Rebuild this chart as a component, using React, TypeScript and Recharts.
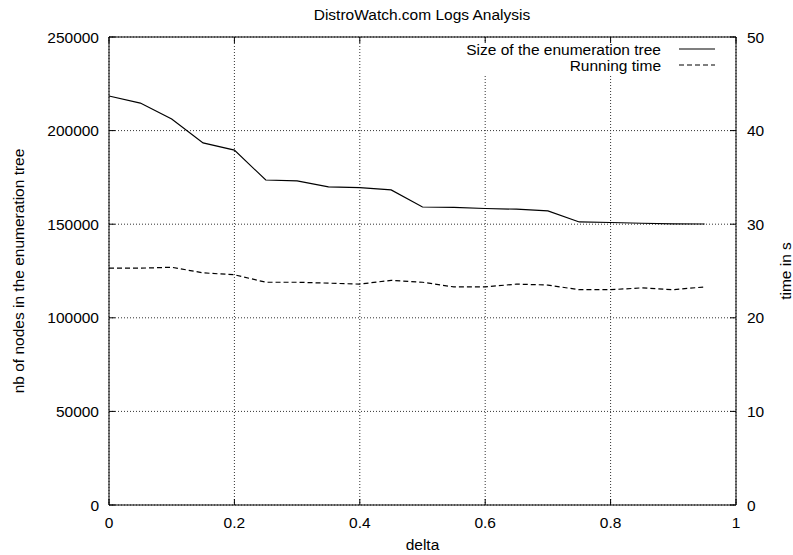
import {
  LineChart,
  Line,
  XAxis,
  YAxis,
  CartesianGrid,
  ReferenceLine,
  Label,
} from "recharts";

const FONT = "'Liberation Sans', Arial, Helvetica, sans-serif";
const W = 793;
const H = 555;
const PLOT_H = 468;
const TICK_LEN = 6;

// delta values on the x axis
const deltas = [
  0, 0.05, 0.1, 0.15, 0.2, 0.25, 0.3, 0.35, 0.4, 0.45, 0.5, 0.55, 0.6, 0.65, 0.7,
  0.75, 0.8, 0.85, 0.9, 0.95,
];
// nb of nodes in the enumeration tree (left axis)
const treeSize = [
  218500, 214700, 206200, 193400, 189600, 173600, 173100, 169900, 169500, 168300,
  159200, 159000, 158400, 158000, 157100, 151200, 150900, 150500, 150200, 150100,
];
// running time in seconds (right axis)
const runTime = [
  25.3, 25.3, 25.4, 24.8, 24.6, 23.8, 23.8, 23.7, 23.6, 24.0, 23.8, 23.3, 23.3,
  23.6, 23.5, 23.0, 23.0, 23.2, 23.0, 23.3,
];

const xTicks = [0, 0.2, 0.4, 0.6, 0.8, 1];
const nodeTicks = [0, 50000, 100000, 150000, 200000, 250000];
const timeTicks = [0, 10, 20, 30, 40, 50];

const data = deltas.map((d, i) => ({ delta: d, nodes: treeSize[i], time: runTime[i] }));

const textStyle = { fontFamily: FONT, fontSize: 15.5, fill: "#000" };

// gnuplot-style ticks: marks point into the plot, mirrored on the top border
function BottomTick(props: any) {
  const { x, y, payload } = props;
  const axisY = y - 12;
  return (
    <g>
      <line x1={x} x2={x} y1={axisY} y2={axisY - TICK_LEN} stroke="#000" />
      <line x1={x} x2={x} y1={axisY - PLOT_H} y2={axisY - PLOT_H + TICK_LEN} stroke="#000" />
      <text x={x} y={y} dy="0.71em" textAnchor="middle" style={textStyle}>
        {String(payload.value)}
      </text>
    </g>
  );
}

function LeftTick(props: any) {
  const { x, y, payload } = props;
  const axisX = x + 10;
  return (
    <g>
      <line x1={axisX} x2={axisX + TICK_LEN} y1={y} y2={y} stroke="#000" />
      <text x={x} y={y} dy="0.355em" textAnchor="end" style={textStyle}>
        {String(payload.value)}
      </text>
    </g>
  );
}

function RightTick(props: any) {
  const { x, y, payload } = props;
  const axisX = x - 11;
  return (
    <g>
      <line x1={axisX} x2={axisX - TICK_LEN} y1={y} y2={y} stroke="#000" />
      <text x={x} y={y} dy="0.355em" textAnchor="start" style={textStyle}>
        {String(payload.value)}
      </text>
    </g>
  );
}

export default function App() {
  return (
    <div style={{ position: "absolute", left: 0, top: 0, width: W, height: H, background: "#fff" }}>
      <LineChart
        width={W}
        height={H}
        data={data}
        margin={{ top: 37, right: 17, bottom: 20, left: 49 }}
      >
        <CartesianGrid yAxisId="nodes" stroke="#333" strokeDasharray="1 2" />
        <XAxis
          dataKey="delta"
          type="number"
          domain={[0, 1]}
          ticks={xTicks}
          height={30}
          tickSize={0}
          tickMargin={12}
          axisLine={{ stroke: "#000" }}
          tickLine={false}
          tick={(p: any) => <BottomTick {...p} />}
        >
          <Label
            content={({ viewBox }: any) => (
              <text
                x={viewBox.x + viewBox.width / 2}
                y={viewBox.y + 45}
                textAnchor="middle"
                style={textStyle}
              >
                delta
              </text>
            )}
          />
        </XAxis>
        <YAxis
          yAxisId="nodes"
          orientation="left"
          domain={[0, 250000]}
          ticks={nodeTicks}
          width={60}
          tickSize={0}
          tickMargin={10}
          axisLine={{ stroke: "#000" }}
          tickLine={false}
          tick={(p: any) => <LeftTick {...p} />}
        >
          <Label
            content={({ viewBox }: any) => (
              <text
                transform={`translate(${viewBox.x - 31}, ${viewBox.y + viewBox.height / 2}) rotate(-90)`}
                textAnchor="middle"
                dy="0.355em"
                style={textStyle}
              >
                nb of nodes in the enumeration tree
              </text>
            )}
          />
        </YAxis>
        <YAxis
          yAxisId="time"
          orientation="right"
          domain={[0, 50]}
          ticks={timeTicks}
          width={40}
          tickSize={0}
          tickMargin={11}
          axisLine={{ stroke: "#000" }}
          tickLine={false}
          tick={(p: any) => <RightTick {...p} />}
        >
          <Label
            content={({ viewBox }: any) => (
              <text
                transform={`translate(${viewBox.x + 49}, ${viewBox.y + viewBox.height / 2}) rotate(-90)`}
                textAnchor="middle"
                dy="0.355em"
                style={textStyle}
              >
                time in s
              </text>
            )}
          />
        </YAxis>
        <ReferenceLine yAxisId="nodes" y={250000} stroke="#000" />
        <Line
          yAxisId="nodes"
          dataKey="nodes"
          type="linear"
          stroke="#000"
          strokeWidth={1.2}
          dot={false}
          isAnimationActive={false}
        />
        <Line
          yAxisId="time"
          dataKey="time"
          type="linear"
          stroke="#000"
          strokeWidth={1.2}
          strokeDasharray="5 3"
          dot={false}
          isAnimationActive={false}
        />
      </LineChart>
      <svg
        width={W}
        height={H}
        style={{ position: "absolute", left: 0, top: 0, pointerEvents: "none" }}
      >
        <text x={422} y={20} textAnchor="middle" style={textStyle}>
          DistroWatch.com Logs Analysis
        </text>
        <rect x={440} y={43} width={285} height={31} fill="#fff" />
        <text x={661} y={49} dy="0.355em" textAnchor="end" style={textStyle}>
          Size of the enumeration tree
        </text>
        <line x1={679} x2={715} y1={49} y2={49} stroke="#000" strokeWidth={1.2} />
        <text x={661} y={65} dy="0.355em" textAnchor="end" style={textStyle}>
          Running time
        </text>
        <line
          x1={679}
          x2={715}
          y1={65}
          y2={65}
          stroke="#000"
          strokeWidth={1.2}
          strokeDasharray="5 3"
        />
      </svg>
    </div>
  );
}
